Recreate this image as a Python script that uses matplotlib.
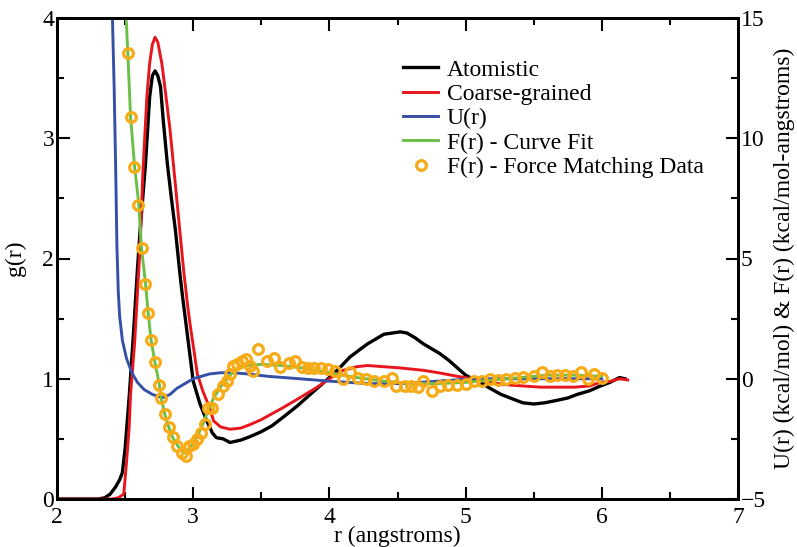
import matplotlib
matplotlib.use("Agg")
import matplotlib.pyplot as plt
from matplotlib.ticker import MultipleLocator

plt.rcParams["font.family"] = ["Liberation Serif", "DejaVu Serif"]

# g(r), atomistic
r_atom = [2.00, 2.30, 2.35, 2.39, 2.43, 2.46, 2.48, 2.50, 2.53, 2.56, 2.59, 2.61,
          2.65, 2.68, 2.70, 2.72, 2.74, 2.76, 2.78, 2.81, 2.84, 2.87, 2.90, 2.92,
          2.95, 3.00, 3.05, 3.10, 3.14, 3.17, 3.22, 3.27, 3.35, 3.42, 3.50, 3.58,
          3.66, 3.76, 3.86, 3.95, 4.03, 4.10, 4.15, 4.22, 4.28, 4.34, 4.40, 4.46,
          4.52, 4.57, 4.63, 4.69, 4.75, 4.81, 4.88, 4.94, 5.00, 5.05, 5.12, 5.18,
          5.26, 5.35, 5.42, 5.50, 5.58, 5.67, 5.75, 5.82, 5.91, 5.99, 6.06, 6.13, 6.17]
g_atom = [0.0, 0.0, 0.01, 0.04, 0.10, 0.16, 0.22, 0.42, 0.85, 1.35, 1.90, 2.23,
          2.79, 3.34, 3.52, 3.56, 3.52, 3.43, 3.15, 2.79, 2.50, 2.23, 1.90, 1.70,
          1.43, 0.98, 0.79, 0.65, 0.55, 0.51, 0.50, 0.47, 0.49, 0.52, 0.56, 0.61,
          0.68, 0.77, 0.87, 0.96, 1.04, 1.12, 1.18, 1.24, 1.29, 1.33, 1.37, 1.38,
          1.39, 1.38, 1.34, 1.29, 1.25, 1.21, 1.15, 1.09, 1.03, 1.00, 0.96, 0.92,
          0.87, 0.83, 0.80, 0.79, 0.80, 0.82, 0.84, 0.87, 0.90, 0.94, 0.97, 1.01, 1.00]

# g(r), coarse-grained
r_cg = [2.00, 2.40, 2.45, 2.49, 2.51, 2.53, 2.54, 2.57, 2.59, 2.61, 2.63, 2.66,
        2.68, 2.70, 2.72, 2.74, 2.77, 2.80, 2.83, 2.86, 2.89, 2.93, 2.96, 2.98,
        3.01, 3.03, 3.07, 3.12, 3.15, 3.20, 3.27, 3.35, 3.42, 3.50, 3.58, 3.66,
        3.78, 3.91, 4.00, 4.10, 4.20, 4.28, 4.40, 4.52, 4.69, 4.80, 4.94, 5.05,
        5.18, 5.30, 5.42, 5.55, 5.67, 5.80, 5.91, 5.99, 6.07, 6.13, 6.19]
g_cg = [0.0, 0.0, 0.01, 0.04, 0.30, 0.60, 0.87, 1.30, 1.70, 2.10, 2.70, 3.35,
        3.62, 3.78, 3.84, 3.80, 3.62, 3.35, 3.07, 2.72, 2.37, 1.90, 1.60, 1.43,
        1.20, 1.04, 0.90, 0.76, 0.65, 0.60, 0.58, 0.59, 0.62, 0.66, 0.71, 0.76,
        0.84, 0.93, 1.00, 1.07, 1.10, 1.11, 1.10, 1.09, 1.07, 1.05, 1.02, 1.00,
        0.97, 0.95, 0.94, 0.93, 0.93, 0.93, 0.94, 0.97, 0.98, 1.00, 0.99]

# U(r), kcal/mol
r_u = [2.405, 2.42, 2.43, 2.44, 2.45, 2.46, 2.48, 2.51, 2.55, 2.59, 2.64, 2.70,
       2.75, 2.78, 2.83, 2.88, 2.94, 3.00, 3.06, 3.12, 3.20, 3.29, 3.40, 3.55,
       3.78, 4.00, 4.28, 4.52, 4.80, 5.05, 5.50, 6.00]
u_val = [15.5, 12.0, 9.0, 5.5, 3.6, 2.6, 1.6, 0.85, 0.25, -0.15, -0.45, -0.65,
         -0.75, -0.78, -0.65, -0.40, -0.20, 0.0, 0.10, 0.20, 0.25, 0.25, 0.20, 0.10,
         0.0, -0.10, -0.20, -0.20, -0.10, 0.0, 0.0, 0.0]

# F(r) curve fit, kcal/mol-angstroms
r_fit = [2.505, 2.52, 2.54, 2.57, 2.60, 2.62, 2.65, 2.67, 2.69, 2.72, 2.75, 2.765,
         2.79, 2.82, 2.85, 2.90, 2.94, 2.98, 3.03, 3.07, 3.11, 3.15, 3.20, 3.26,
         3.32, 3.40, 3.50, 3.65, 3.80, 4.00, 4.20, 4.40, 4.60, 4.80, 5.00, 5.20,
         5.40, 5.60, 5.80, 6.00]
f_fit = [15.3, 13.55, 10.9, 8.8, 7.3, 5.45, 3.95, 2.7, 1.65, 0.65, -0.2, -0.8,
         -1.45, -2.0, -2.45, -2.9, -3.1, -2.85, -2.4, -1.9, -1.3, -0.8, -0.35, 0.1,
         0.4, 0.55, 0.6, 0.55, 0.45, 0.25, 0.05, -0.1, -0.2, -0.2, -0.15, -0.05,
         0.05, 0.15, 0.15, 0.1]

# F(r) force matching data
r_fm = [2.519, 2.541, 2.568, 2.597, 2.622, 2.646, 2.67, 2.69, 2.72, 2.75, 2.764,
        2.793, 2.822, 2.854, 2.883, 2.915, 2.947, 2.97, 3.00, 3.03, 3.06, 3.087,
        3.11, 3.136, 3.18, 3.22, 3.246, 3.27, 3.295, 3.32, 3.356, 3.39, 3.417,
        3.44, 3.478, 3.54, 3.59, 3.64, 3.70, 3.75, 3.80, 3.845, 3.89, 3.94, 3.99,
        4.04, 4.10, 4.15, 4.21, 4.27, 4.33, 4.40, 4.457, 4.49, 4.555, 4.60, 4.65,
        4.69, 4.75, 4.81, 4.87, 4.935, 5.00, 5.06, 5.12, 5.18, 5.24, 5.30, 5.36,
        5.42, 5.50, 5.56, 5.62, 5.67, 5.73, 5.79, 5.85, 5.90, 5.94, 6.00]
f_fm = [13.53, 10.9, 8.8, 7.24, 5.45, 3.92, 2.72, 1.62, 0.68, -0.25, -0.78,
        -1.47, -2.0, -2.44, -2.8, -3.07, -3.2, -2.8, -2.72, -2.5, -2.24, -1.9,
        -1.2, -1.2, -0.64, -0.29, -0.08, 0.2, 0.54, 0.6, 0.75, 0.82, 0.54,
        0.33, 1.24, 0.75, 0.88, 0.47, 0.64, 0.75, 0.47, 0.45, 0.45, 0.45, 0.4,
        0.33, -0.01, 0.26, 0.05, -0.01, -0.08, -0.08, 0.05, -0.29, -0.29, -0.29, -0.36,
        -0.08, -0.5, -0.29, -0.25, -0.25, -0.2, -0.11, -0.08, -0.01, -0.05, -0.01, 0.05,
        0.08, 0.12, 0.26, 0.12, 0.16, 0.16, 0.12, 0.26, -0.01, 0.2, 0.05]

fig = plt.figure(figsize=(7.97, 5.47), dpi=100)
ax = fig.add_axes([57 / 797, 1 - 499 / 547, 681 / 797, 481 / 547])
ax2 = ax.twinx()

l1, = ax.plot(r_atom, g_atom, color="black", lw=2.4, label="Atomistic")
l2, = ax.plot(r_cg, g_cg, color="#e8151c", lw=2.1, label="Coarse-grained")
l3, = ax2.plot(r_u, u_val, color="#3650a8", lw=2.1, label="U(r)")
l4, = ax2.plot(r_fit, f_fit, color="#6cbf46", lw=2.1, label="F(r) - Curve Fit")
l5, = ax2.plot(r_fm, f_fm, ls="none", marker="o", ms=7, mfc="none", mew=2.3,
               mec="#f6ab17", label="F(r) - Force Matching Data")

ax.set_xlim(2, 7)
ax.set_ylim(0, 4)
ax2.set_ylim(-5, 15)
ax.xaxis.set_major_locator(MultipleLocator(1))
ax.xaxis.set_minor_locator(MultipleLocator(0.5))
ax.yaxis.set_major_locator(MultipleLocator(1))
ax.yaxis.set_minor_locator(MultipleLocator(0.5))
ax2.yaxis.set_major_locator(MultipleLocator(5))
ax2.yaxis.set_minor_locator(MultipleLocator(2.5))

for a in (ax, ax2):
    for s in a.spines.values():
        s.set_linewidth(2.0)
ax.tick_params(which="both", direction="in", top=True, right=False, width=1.5,
               labelsize=17, pad=2)
ax.tick_params(axis="x", which="both", pad=6)
ax.tick_params(which="major", length=9)
ax.tick_params(which="minor", length=5)
ax2.tick_params(which="both", direction="in", width=1.5, labelsize=17, pad=2)
ax2.tick_params(which="major", length=9)
ax2.tick_params(which="minor", length=5)

ax.set_xlabel("r (angstroms)", fontsize=17, labelpad=-2)
ax.set_ylabel("g(r)", fontsize=17, labelpad=12)
ax2.set_ylabel("U(r) (kcal/mol) & F(r) (kcal/mol-angstroms)", fontsize=17, labelpad=6)

fig.legend(handles=[l1, l2, l3, l4, l5], loc="upper left",
           bbox_to_anchor=(403 / 797, 1 - 59 / 547), frameon=False, fontsize=17,
           handlelength=1.5, handletextpad=0.35, labelspacing=0.12, borderpad=0,
           borderaxespad=0, numpoints=1)

fig.savefig("out.png", dpi=100)
